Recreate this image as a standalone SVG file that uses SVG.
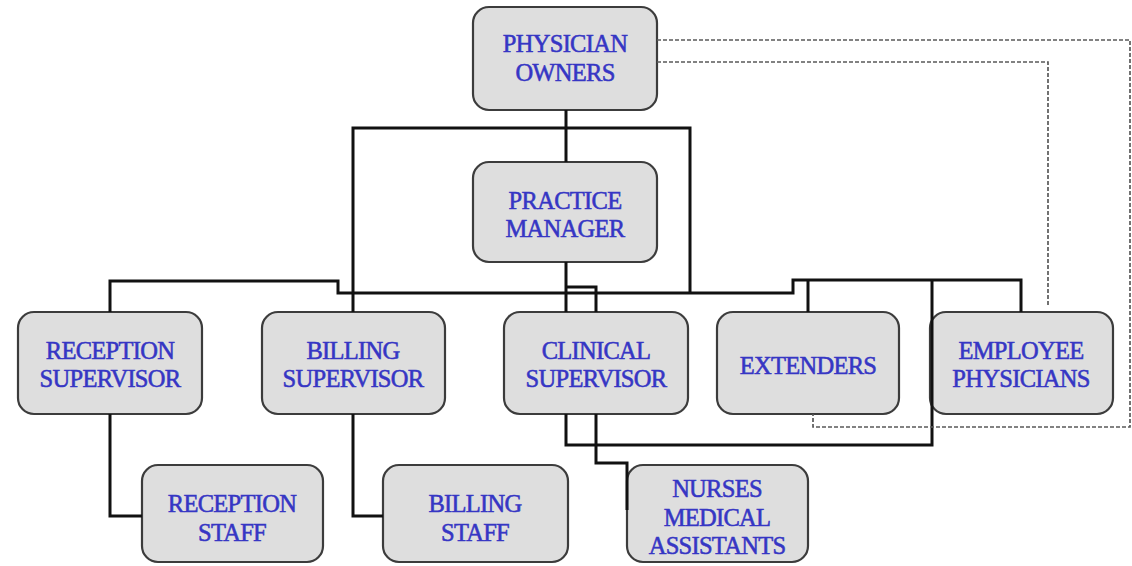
<svg xmlns="http://www.w3.org/2000/svg" width="1132" height="566" viewBox="0 0 1132 566">
<style>
.box{fill:#dedede;stroke:#3c3c3c;stroke-width:2.2}
.t{font-family:"Liberation Serif","Times New Roman",serif;font-size:24.5px;letter-spacing:-0.7px;fill:#3636c4;stroke:#3636c4;stroke-width:0.55;text-anchor:middle}
.c{fill:none;stroke:#111;stroke-width:3;stroke-linejoin:miter}
.d{fill:none;stroke:#5a5a5a;stroke-width:1.7;stroke-dasharray:4 2}
</style>
<rect width="1132" height="566" fill="#fff"/>
<g id="physician-owners"><rect class="box" x="473" y="7" width="184" height="103" rx="16"/><text class="t" x="565" y="52">PHYSICIAN</text><text class="t" x="565" y="81">OWNERS</text></g>
<g id="practice-manager"><rect class="box" x="473" y="162" width="184" height="100" rx="16"/><text class="t" x="565" y="209">PRACTICE</text><text class="t" x="565" y="237">MANAGER</text></g>
<g id="reception-supervisor"><rect class="box" x="18" y="312" width="184" height="102" rx="16"/><text class="t" x="110" y="359">RECEPTION</text><text class="t" x="110" y="387">SUPERVISOR</text></g>
<g id="billing-supervisor"><rect class="box" x="262" y="312" width="183" height="102" rx="16"/><text class="t" x="353" y="359">BILLING</text><text class="t" x="353" y="387">SUPERVISOR</text></g>
<g id="clinical-supervisor"><rect class="box" x="504" y="312" width="184" height="102" rx="16"/><text class="t" x="596" y="359">CLINICAL</text><text class="t" x="596" y="387">SUPERVISOR</text></g>
<g id="extenders"><rect class="box" x="717" y="312" width="182" height="102" rx="16"/><text class="t" x="808" y="374">EXTENDERS</text></g>
<g id="employee-physicians"><rect class="box" x="930" y="312" width="183" height="102" rx="16"/><text class="t" x="1021" y="359">EMPLOYEE</text><text class="t" x="1021" y="387">PHYSICIANS</text></g>
<g id="reception-staff"><rect class="box" x="142" y="465" width="181" height="97" rx="16"/><text class="t" x="232" y="512">RECEPTION</text><text class="t" x="232" y="541">STAFF</text></g>
<g id="billing-staff"><rect class="box" x="383" y="465" width="185" height="97" rx="16"/><text class="t" x="475" y="512">BILLING</text><text class="t" x="475" y="541">STAFF</text></g>
<g id="nurses-medical-assistants"><rect class="box" x="627" y="465" width="181" height="97" rx="16"/><text class="t" x="717" y="497">NURSES</text><text class="t" x="717" y="526">MEDICAL</text><text class="t" x="717" y="554">ASSISTANTS</text></g>
<g id="connectors">
<path class="c" d="M566,110 V162"/>
<path class="c" d="M353,312 V128 H690 V293"/>
<path class="c" d="M566,262 V312"/>
<path class="c" d="M110,312 V281 H338 V293 H793 V280 H1021 V312"/>
<path class="c" d="M808,280 V312"/>
<path class="c" d="M596,312 V287 H566"/>
<path class="c" d="M566,414 V445 H932 V280"/>
<path class="c" d="M596,414 V463 H627 V510"/>
<path class="c" d="M110,414 V516 H142"/>
<path class="c" d="M353,414 V516 H383"/>
<path class="d" d="M657,40 H1130 V427 H813 V414"/>
<path class="d" d="M657,62 H1048 V307"/>
</g>
</svg>
